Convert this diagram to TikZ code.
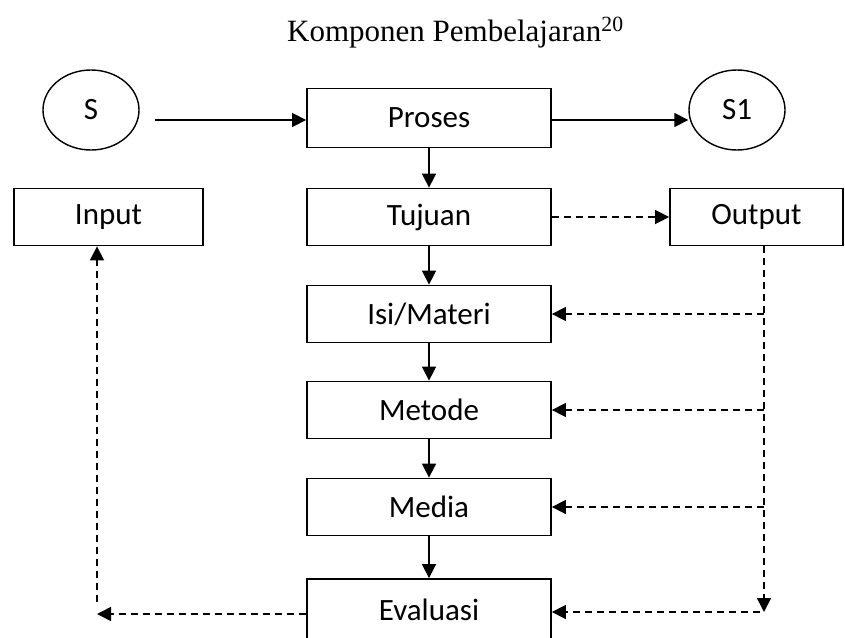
\documentclass[tikz,border=0pt]{standalone}
\usepackage{fontspec}
\setmainfont{Carlito}
\newfontfamily\titlefont{Liberation Serif}
\usetikzlibrary{shapes.geometric,arrows.meta}
\begin{document}
\begin{tikzpicture}[x=1pt,y=-1pt,
  box/.style={draw,line width=1.8pt,minimum width=244pt,minimum height=57pt,inner sep=0pt,font=\fontsize{31}{34}\selectfont},
  circ/.style={draw,ellipse,line width=1.4pt,minimum width=96pt,minimum height=80pt,inner sep=0pt,font=\fontsize{31}{34}\selectfont},
  tip/.style={-{Triangle[length=14pt,width=14pt]}},
  sol/.style={line width=1.6pt,tip},
  dsh/.style={line width=1.6pt,dash pattern=on 7pt off 5pt,tip}]
\useasboundingbox (0,0) rectangle (845,637);
\node[font=\titlefont\fontsize{31}{34}\selectfont,anchor=base west,inner sep=0pt] (title) at (287,41) {Komponen Pembelajaran\textsuperscript{20}};
\node[circ] (s) at (91,110) {S};
\node[box,minimum height=59pt] (proses) at (429,118) {Proses};
\node[circ] (s1) at (737,110) {S1};
\node[box] (tujuan) at (429,217) {Tujuan};
\node[box,minimum width=189pt] (input) at (108.5,217) {Input};
\node[box,minimum width=173pt] (output) at (756.5,217) {Output};
\node[box] (isi) at (429,314) {Isi/Materi};
\node[box] (metode) at (429,410) {Metode};
\node[box] (media) at (429,507) {Media};
\node[box,minimum height=62pt] (evaluasi) at (429,610) {Evaluasi};
\coordinate (sa) at (155,120);
\draw[sol] (sa) -- (sa -| proses.west);
\draw[sol] (proses.east |- sa) -- (sa -| s1.west);
\draw[sol] (proses) -- (tujuan);
\draw[sol] (tujuan) -- (isi);
\draw[sol] (isi) -- (metode);
\draw[sol] (metode) -- (media);
\draw[sol] (media) -- (evaluasi);
\draw[dsh] (tujuan.east) -- (output.west);
\coordinate (rtop) at (764,246);
\coordinate (rbot) at (764,612);
\coordinate (rev) at (760,612);
\draw[dsh] (rtop) -- (rbot);
\draw[dsh] (isi.east -| rtop) -- (isi.east);
\draw[dsh] (metode.east -| rtop) -- (metode.east);
\draw[dsh] (media.east -| rtop) -- (media.east);
\draw[dsh] (rev) -- (evaluasi.east |- rev);
\coordinate (lb) at (97,614);
\coordinate (lv) at (97,602);
\draw[dsh] (evaluasi.west |- lb) -- (lb);
\draw[dsh] (lv) -- (input.south -| lv);
\end{tikzpicture}
\end{document}
